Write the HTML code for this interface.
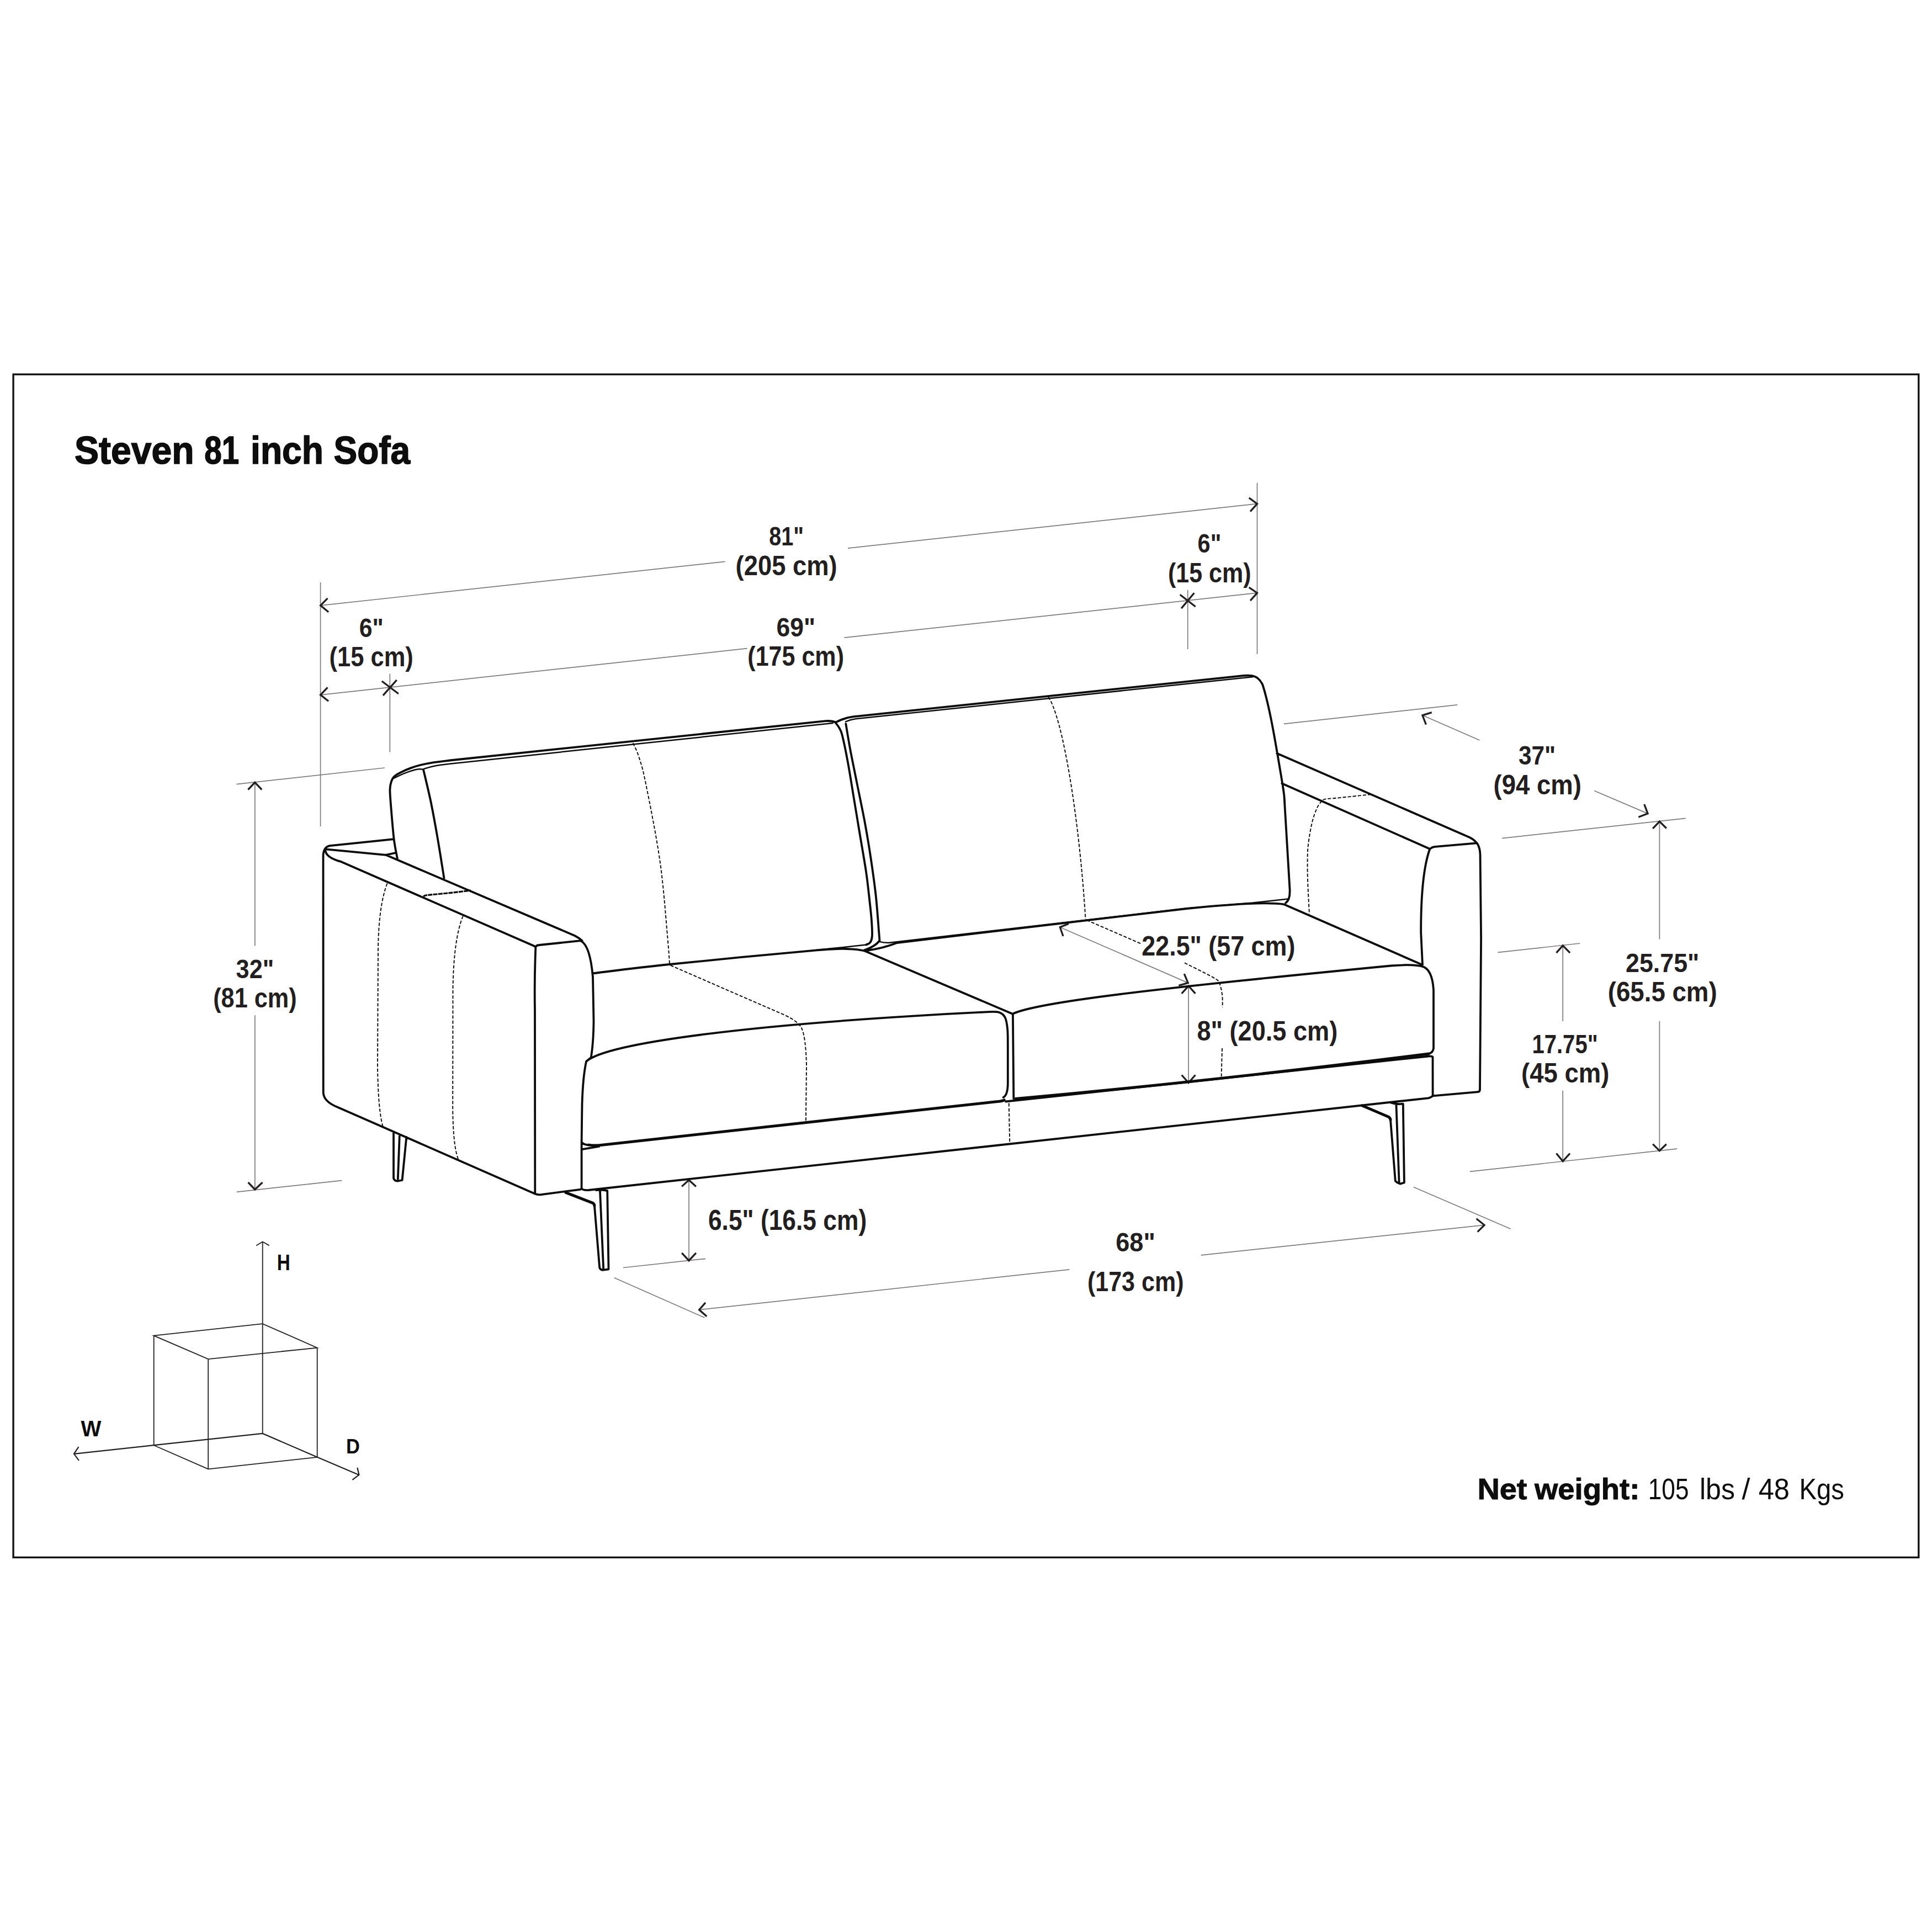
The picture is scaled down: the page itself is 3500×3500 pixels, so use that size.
<!DOCTYPE html>
<html><head><meta charset="utf-8"><title>Steven 81 inch Sofa</title>
<style>html,body{margin:0;padding:0;background:#fff;}svg{display:block;}text{font-family:"Liberation Sans",sans-serif;}</style>
</head><body>
<svg width="3500" height="3500" viewBox="0 0 3500 3500">
<rect width="3500" height="3500" fill="#fff"/>
<rect x="24.1" y="678.2" width="3451.7" height="2143.2" fill="none" stroke="#141414" stroke-width="3.4"/>
<path d="M580.6,1055 L580.6,1497 M706.3,1220.5 L706.3,1362.4 M580.6,1096.9 L1313.7,1017.3 M1536,993.2 L2277.5,912.7 M2277.5,874.7 L2277.5,1185 M2151.7,1068.8 L2151.7,1175.9 M580.6,1258.8 L1353.6,1174.7 M1529.5,1155.2 L2277.5,1074.2 M428.4,1420.7 L697,1391 M461.8,1417.3 L461.8,1713.6 M461.8,1839.2 L461.8,2154.9 M428.9,2159.3 L619.2,2138.6 M2325.9,1311.3 L2640.3,1276.9 M2576.9,1295.8 L2680.4,1341 M2888.1,1432.5 L2985.1,1473.9 M2721.2,1518.6 L3053.7,1482.4 M3006.4,1488.1 L3006.4,1701.6 M3006.4,1850.1 L3006.4,2084.8 M2713.4,1725.4 L2862.2,1709 M2831.2,1712.9 L2831.2,1850.1 M2831.2,1975.6 L2831.2,2103.7 M2662.9,2122.4 L3038.2,2081.2 M1920.3,1679.7 L2152.2,1780.6 M2153.1,1786.2 L2153.1,1961.5 M1248,2137.8 L1248,2283.7 M1128.9,2296.5 L1278,2280.3 M1112.6,2314.8 L1276.4,2387 M1266.6,2372.8 L1937.4,2299.9 M2175.7,2273.9 L2689.1,2219.3 M2560.8,2150.5 L2736.7,2226.3" fill="none" stroke="#7c7c7c" stroke-width="1.7"/>
<path d="M593.5,1083.9 L580.6,1096.9 L595.1,1108.7 M2262.7,901.8 L2277.5,912.7 L2265,926.7 M593.5,1245.3 L580.6,1258.8 L595.1,1270.2 M2262.7,1064.1 L2277.5,1074.2 L2265,1088.2 M691.8,1234 L721.8,1256.8 M718.7,1231.9 L693.9,1259.8 M2137.7,1077.3 L2165.7,1099 M2163.4,1074.2 L2140.1,1102.1 M449.4,1430.5 L461.8,1417.3 L474.2,1430.5 M449.6,2142 L461.8,2154.9 L475.5,2142 M2593.7,1290.6 L2576.9,1295.8 L2583.4,1312.6 M2978.7,1457 L2985.1,1473.9 L2968.3,1480.3 M2994.2,1501 L3006.4,1488.1 L3018.8,1500.5 M2994.2,2072.7 L3006.4,2084.8 L3018.8,2072.7 M2819.5,1726.2 L2831.2,1712.9 L2844.1,1726.2 M2819.5,2089.5 L2831.2,2103.7 L2844.1,2089.5 M1935.9,1673.4 L1920.3,1679.7 L1926,1696 M2145.3,1764.2 L2152.2,1780.6 L2135.4,1785.3 M2140.7,1799.9 L2153.1,1786.2 L2165.5,1799.9 M2140.7,1947.5 L2153.1,1961.5 L2165.5,1947.5 M1235.2,2149.4 L1248,2137.8 L1260.9,2149.4 M1235.2,2269.8 L1248,2283.7 L1260.9,2269.8 M1278,2359.8 L1266.6,2372.8 L1280.3,2384.7 M2674.6,2207.7 L2689.1,2219.3 L2676.7,2231.7" fill="none" stroke="#231f20" stroke-width="3.3"/>
<path d="M713.6,1520.2 L597.6,1532.2 Q586,1534.5 585.5,1550 L585.7,1979.5 Q586.5,1996 612.1,2005.9 L969.3,2162.7 Q973.5,2164.6 978.6,2164.3 L1051.2,2154.8 Q1053.6,2154 1053.6,2151.7 M589.3,1538.4 L699,1548.8 L716.7,1545 M699,1548.8 L1041.5,1695.2 Q1049,1699 1054.5,1704.2 M589.3,1538.4 Q588.5,1553 618.3,1561.2 L966.5,1713.3 Q968.5,1714.3 970.3,1715.9 M970.3,1715.9 Q968,1780 969,1830 L969.3,2162.7 M970.3,1715 Q972.5,1712.3 976.8,1712 L1051.9,1704.2 C1064,1710 1071,1735 1074,1770 L1075.5,1850 Q1075,1890 1070.7,1915.7 M719.8,1555.0 C718.8,1549.1 715.7,1537.3 713.6,1519.8 C711.5,1502.3 708.6,1465.1 707.4,1450.0 C706.2,1434.9 706.3,1434.6 706.5,1429.0 C706.7,1423.4 707.5,1420.2 708.7,1416.6 C709.9,1413.0 710.7,1410.2 713.6,1407.3 C716.5,1404.4 720.9,1401.9 726.1,1399.2 C731.3,1396.5 738.5,1393.4 744.7,1391.1 C750.9,1388.8 757.1,1387.0 763.3,1385.5 C769.5,1384.0 773.4,1383.1 782.0,1381.8 C790.6,1380.5 809.5,1378.2 815.0,1377.5 L1495.8,1306.1 Q1508,1305.5 1513.9,1308.7 M767.0,1394.2 C769.3,1404.3 776.7,1434.0 781.0,1455.0 C785.3,1476.0 789.1,1497.3 793.0,1520.0 C796.9,1542.7 802.6,1579.2 804.5,1591.0 M1513.4,1308.9 C1515.2,1312.1 1520.8,1316.1 1524.5,1327.8 C1528.2,1339.5 1531.9,1359.3 1535.6,1379.0 C1539.3,1398.7 1543.1,1423.5 1546.8,1445.8 C1550.5,1468.1 1554.2,1490.3 1557.9,1512.6 C1561.6,1534.8 1566.0,1558.9 1569.0,1579.3 C1572.0,1599.7 1574.0,1620.2 1575.7,1635.0 C1577.4,1649.8 1578.3,1658.2 1579.0,1668.4 C1579.7,1678.6 1580.4,1689.5 1579.9,1696.0 C1579.5,1702.5 1578.1,1704.9 1576.3,1707.5 C1574.5,1710.1 1570.2,1710.8 1569.0,1711.5 M1532.3,1311.1 C1533.6,1318.7 1536.6,1338.1 1540.1,1356.8 C1543.6,1375.5 1549.0,1401.2 1553.4,1423.5 C1557.9,1445.8 1562.7,1468.0 1566.8,1490.3 C1570.9,1512.6 1574.6,1534.8 1577.9,1557.1 C1581.2,1579.3 1584.4,1601.5 1586.8,1623.8 C1589.2,1646.0 1591.3,1677.2 1592.4,1690.6 C1593.5,1704.0 1593.3,1701.8 1593.5,1704.0 Q1585,1715 1565.9,1721.4 M1513.9,1308.7 Q1530,1300 1545,1298.3 L2253.7,1223.8 Q2270,1222.5 2277,1227.6 Q2284,1233 2287.4,1240.6 C2300,1280 2310,1340 2323.6,1421.7 Q2327,1440 2327.5,1460 L2336.5,1610.7 Q2337.5,1630 2329.3,1635.6 M1073.5,1763.4 C1096.8,1760.7 1145.2,1754.0 1213.0,1747.0 C1280.8,1740.0 1425.2,1726.0 1480.0,1721.4 C1534.8,1716.8 1527.7,1719.2 1542.0,1719.4 C1556.3,1719.6 1561.9,1722.0 1565.9,1722.5 M1570,1722 Q1600,1718 1625,1708 L2150,1646 Q2290,1632 2326.5,1638.4 L2577,1748 M2313.3,1364.8 L2662.3,1517 Q2670,1520.5 2676.6,1528.7 Q2681,1536 2681.5,1548 L2683.1,1700 L2681,1974.3 Q2680.5,1978 2677.2,1978.2 L2597.7,1985.2 M2322.3,1419.2 L2589.9,1537.7 M2589.9,1538.5 Q2594,1534.5 2600.2,1533.9 L2675.3,1527.4 M2589.9,1539 C2579,1570 2574,1620 2574.2,1690 L2577,1748 M1565.9,1722.5 L1834.9,1837 M1825.8,1895 L1825.8,1963 Q1825.5,1984 1817.6,1988 M1062.1,1922.7 C1100,1890 1350,1855 1785,1833.4 C1789.0,1833.5 1802.9,1832.0 1808.9,1833.7 C1814.9,1835.4 1818.2,1838.2 1820.9,1843.5 C1823.6,1848.8 1824.4,1856.6 1825.2,1865.2 C1826.0,1873.8 1825.7,1890.0 1825.8,1895.0 M1070.7,1915.7 L1062.1,1922.7 Q1056,1950 1054.5,2000 L1053.6,2069.4 Q1058,2074 1066.8,2074.5 M1053.6,2069.4 L1053.6,2151.7 M1055.9,2081.9 L1085,2077 M1834.9,1837.7 L1836.3,1990 M1834.9,1836.5 C1880,1815 2100,1790 2520,1749.5 Q2565,1746 2580,1752 Q2595,1760 2597,1793.6 L2597,1899 Q2596,1907 2588.4,1908.9 M1822,1995.5 L2588,1913.5 Q2594,1913 2595.5,1915 L2595.6,1984.7 M1053.6,2153 Q1056,2156.5 1066,2156 L2587.3,1989.3 Q2594,1987.5 2595.6,1984.7 M713,2050 L713,2134.8 Q715,2140 721,2139.5 L728.6,2137.9 L736.3,2060 M723.9,2055 L720.8,2136 M1076.9,2184.3 L1086.2,2296.9 Q1088,2300.5 1091.6,2300.8 L1102.5,2299.3 L1100.2,2157.2 M1087,2158 L1093.2,2299.3 M1080,2156 Q1090,2155 1100.2,2157.2 M2519,2028.7 L2527.8,2139.4 Q2531,2143 2536.6,2144.6 L2543.9,2142.5 L2541.8,1999.7 M2529.4,2000.7 L2534.6,2141.5 M2520,1997.6 Q2530,2001 2541.8,1999.7 M2597.7,1985.2 Q2596,1985 2595.6,1984.7" fill="none" stroke="#0b0b0b" stroke-width="3.8" stroke-linecap="round" stroke-linejoin="round"/>
<path d="M1066.8,2074.1 Q1075,2075.5 1083.9,2074.9 L1805,1995.7 Q1815,1995 1819.2,1992.9 M1840,1990.5 Q2200,1958 2588.4,1909 M1024.8,2160.3 L1074.5,2179.7 Q1077,2182 1076.9,2184.3 M2467.3,2002.8 L2515.9,2023.5 Q2519,2026 2519,2028.7" fill="none" stroke="#0b0b0b" stroke-width="5" stroke-linecap="round" stroke-linejoin="round"/>
<path d="M713.6,1409.8 C716.7,1408.3 726.1,1403.6 732.3,1401.1 C738.5,1398.6 746.2,1396.1 750.9,1394.8 C755.5,1393.5 757.6,1393.4 760.2,1393.3 C762.8,1393.2 765.4,1393.8 766.4,1393.9 M766.4,1393.9 C766.9,1393.7 765.9,1393.5 769.5,1392.4 C773.1,1391.3 780.6,1388.9 788.2,1387.4 C795.8,1386.0 810.5,1384.3 815.0,1383.7 L1508.7,1310 M1532,1307.4 Q1540,1303.5 1550,1302.2 L2269.2,1226.3 M1470,1722 Q1490,1720 1511,1717.8 L1569,1711.5 M1592.8,1705.9 Q1600,1708 1609.4,1708 L2150,1645.5 L2269.6,1635.6 L2333.6,1628.5" fill="none" stroke="#0b0b0b" stroke-width="2.5" stroke-linecap="round" stroke-linejoin="round"/>
<path d="M701.5,1600.5 Q686,1640 685,1720 L684,1930 Q685,2015 694.4,2043.2 M838.8,1659.5 Q822,1700 820.5,1790 L820.2,2010 Q821,2080 831.1,2102.2 M2483.9,1439.1 C2477.8,1439.8 2458.0,1441.9 2447.0,1443.1 C2436.0,1444.2 2425.8,1445.2 2418.0,1446.0 C2410.2,1446.8 2403.9,1446.8 2399.9,1447.8 C2395.9,1448.8 2396.4,1448.9 2394.0,1451.8 C2391.6,1454.7 2388.2,1458.5 2385.4,1464.9 C2382.6,1471.3 2379.6,1479.2 2377.0,1490.0 C2374.4,1500.8 2371.4,1518.0 2370.0,1530.0 C2368.6,1542.0 2368.7,1550.6 2368.6,1562.3 C2368.5,1574.0 2368.6,1584.4 2369.2,1600.0 C2369.8,1615.6 2371.5,1646.7 2372.0,1656.0 M1146.7,1346.2 C1148.4,1350.2 1153.1,1357.7 1157.0,1370.0 C1160.9,1382.3 1163.5,1388.0 1170.0,1420.0 C1176.5,1452.0 1189.3,1515.6 1195.9,1562.3 C1202.5,1609.0 1206.7,1669.3 1209.5,1700.0 C1212.3,1730.7 1212.4,1738.6 1213.0,1746.3 M1214.6,1748.8 L1422.7,1839.4 Q1445,1850 1452,1862 Q1460,1880 1461,1930 L1459.9,2033.5 M1899.2,1262.6 C1925,1300 1955,1480 1966.5,1665 M1968.7,1666.9 L2066.9,1709.6 M2146.0,1744.3 C2155.4,1749.2 2191.7,1766.6 2202.5,1773.5 C2213.3,1780.4 2208.6,1780.7 2210.6,1785.9 C2212.6,1791.1 2213.6,1798.0 2214.3,1804.5 C2215.0,1811.0 2214.6,1821.6 2214.6,1825.0 M2214,1899 L2212.6,1950.2 M1827.7,1998.6 L1829.2,2069.7" fill="none" stroke="#0b0b0b" stroke-width="1.9" stroke-dasharray="6 3.1"/>
<path d="M767.4,1624.8 C768.4,1624.3 765.3,1622.9 773.6,1621.7 C781.9,1620.5 804.7,1618.8 817.1,1617.4 C829.5,1616.1 842.2,1614.3 848.2,1613.6 C854.2,1612.9 852.2,1613.1 853.0,1613.0" fill="none" stroke="#0b0b0b" stroke-width="3.2" stroke-dasharray="8 1.3"/>
<path d="M278.7,2419.7 L475.7,2398.1 L574.7,2441.6 L377.2,2462.1 Z M278.7,2419.7 L278.7,2618.2 M377.2,2462.1 L377.2,2661.4 M574.7,2441.6 L574.7,2639.8 M377.2,2661.4 L574.7,2639.8 M278.7,2618.2 L377.2,2661.4 M475.7,2249.5 L475.7,2596.9 M464.2,2256.4 L475.7,2249.5 L487.7,2256.4" fill="none" stroke="#231f20" stroke-width="1.8"/>
<path d="M134,2633.8 L278.7,2618.2 L475.7,2596.9 L574.7,2639.8 L650.4,2671.9 M142.4,2621.2 L134,2633.8 L143,2645.8 M647.4,2658.7 L650.4,2671.9 L638.4,2680.9" fill="none" stroke="#231f20" stroke-width="2.2"/>
<text x="3155.5" y="2715.7" font-size="53.8" fill="#0d0d0d">/</text>
<text x="135.0" y="840.0" font-size="69.8" font-weight="bold" fill="#0d0d0d" stroke="#0d0d0d" stroke-width="1.60" stroke-linejoin="round" textLength="216.7" lengthAdjust="spacingAndGlyphs">Steven</text>
<text x="370.3" y="840.0" font-size="69.8" font-weight="bold" fill="#0d0d0d" stroke="#0d0d0d" stroke-width="1.60" stroke-linejoin="round" textLength="62.9" lengthAdjust="spacingAndGlyphs">81</text>
<text x="454.1" y="840.0" font-size="69.8" font-weight="bold" fill="#0d0d0d" stroke="#0d0d0d" stroke-width="1.60" stroke-linejoin="round" textLength="131.9" lengthAdjust="spacingAndGlyphs">inch</text>
<text x="604.6" y="840.0" font-size="69.8" font-weight="bold" fill="#0d0d0d" stroke="#0d0d0d" stroke-width="1.60" stroke-linejoin="round" textLength="138.4" lengthAdjust="spacingAndGlyphs">Sofa</text>
<text x="1393.2" y="988.2" font-size="48.7" font-weight="bold" fill="#231f20" textLength="62.9" lengthAdjust="spacingAndGlyphs">81&quot;</text>
<text x="1332.6" y="1041.8" font-size="49.4" font-weight="bold" fill="#231f20" textLength="184.0" lengthAdjust="spacingAndGlyphs">(205 cm)</text>
<text x="2169.6" y="1001.2" font-size="48.7" font-weight="bold" fill="#231f20" textLength="42.7" lengthAdjust="spacingAndGlyphs">6&quot;</text>
<text x="2116.0" y="1054.8" font-size="49.4" font-weight="bold" fill="#231f20" textLength="150.6" lengthAdjust="spacingAndGlyphs">(15 cm)</text>
<text x="650.8" y="1154.2" font-size="48.7" font-weight="bold" fill="#231f20" textLength="44.1" lengthAdjust="spacingAndGlyphs">6&quot;</text>
<text x="596.6" y="1207.0" font-size="49.4" font-weight="bold" fill="#231f20" textLength="152.2" lengthAdjust="spacingAndGlyphs">(15 cm)</text>
<text x="1406.4" y="1152.8" font-size="48.7" font-weight="bold" fill="#231f20" textLength="70.6" lengthAdjust="spacingAndGlyphs">69&quot;</text>
<text x="1354.3" y="1206.4" font-size="49.4" font-weight="bold" fill="#231f20" textLength="174.7" lengthAdjust="spacingAndGlyphs">(175 cm)</text>
<text x="2750.9" y="1385.1" font-size="48.7" font-weight="bold" fill="#231f20" textLength="67.3" lengthAdjust="spacingAndGlyphs">37&quot;</text>
<text x="2705.6" y="1439.0" font-size="49.4" font-weight="bold" fill="#231f20" textLength="159.2" lengthAdjust="spacingAndGlyphs">(94 cm)</text>
<text x="427.6" y="1771.9" font-size="48.7" font-weight="bold" fill="#231f20" textLength="68.6" lengthAdjust="spacingAndGlyphs">32&quot;</text>
<text x="386.2" y="1824.9" font-size="49.4" font-weight="bold" fill="#231f20" textLength="151.4" lengthAdjust="spacingAndGlyphs">(81 cm)</text>
<text x="2068.3" y="1731.0" font-size="49.4" font-weight="bold" fill="#231f20" textLength="278.1" lengthAdjust="spacingAndGlyphs">22.5&quot; (57 cm)</text>
<text x="2945.0" y="1760.8" font-size="48.7" font-weight="bold" fill="#231f20" textLength="133.3" lengthAdjust="spacingAndGlyphs">25.75&quot;</text>
<text x="2912.7" y="1813.9" font-size="49.4" font-weight="bold" fill="#231f20" textLength="198.0" lengthAdjust="spacingAndGlyphs">(65.5 cm)</text>
<text x="2168.5" y="1884.7" font-size="49.4" font-weight="bold" fill="#231f20" textLength="254.8" lengthAdjust="spacingAndGlyphs">8&quot; (20.5 cm)</text>
<text x="2775.5" y="1908.3" font-size="48.7" font-weight="bold" fill="#231f20" textLength="119.1" lengthAdjust="spacingAndGlyphs">17.75&quot;</text>
<text x="2756.1" y="1961.4" font-size="49.4" font-weight="bold" fill="#231f20" textLength="159.2" lengthAdjust="spacingAndGlyphs">(45 cm)</text>
<text x="1282.9" y="2227.6" font-size="50.9" font-weight="bold" fill="#231f20" textLength="287.3" lengthAdjust="spacingAndGlyphs">6.5&quot; (16.5 cm)</text>
<text x="2021.2" y="2266.5" font-size="48.7" font-weight="bold" fill="#231f20" textLength="71.7" lengthAdjust="spacingAndGlyphs">68&quot;</text>
<text x="1969.9" y="2338.9" font-size="49.4" font-weight="bold" fill="#231f20" textLength="174.7" lengthAdjust="spacingAndGlyphs">(173 cm)</text>
<text x="2676.4" y="2715.7" font-size="53.8" font-weight="bold" fill="#0d0d0d" stroke="#0d0d0d" stroke-width="1.00" stroke-linejoin="round" textLength="90.1" lengthAdjust="spacingAndGlyphs">Net</text>
<text x="2780.0" y="2715.7" font-size="53.8" font-weight="bold" fill="#0d0d0d" stroke="#0d0d0d" stroke-width="1.00" stroke-linejoin="round" textLength="190.3" lengthAdjust="spacingAndGlyphs">weight:</text>
<text x="2985.8" y="2715.7" font-size="53.8" font-weight="normal" fill="#0d0d0d" textLength="73.7" lengthAdjust="spacingAndGlyphs">105</text>
<text x="3079.0" y="2715.7" font-size="53.8" font-weight="normal" fill="#0d0d0d" textLength="64.0" lengthAdjust="spacingAndGlyphs">lbs</text>
<text x="3185.7" y="2715.7" font-size="53.8" font-weight="normal" fill="#0d0d0d" textLength="56.3" lengthAdjust="spacingAndGlyphs">48</text>
<text x="3259.5" y="2715.7" font-size="53.8" font-weight="normal" fill="#0d0d0d" textLength="81.5" lengthAdjust="spacingAndGlyphs">Kgs</text>
<text x="501.8" y="2300.5" font-size="41.4" font-weight="bold" fill="#0d0d0d" textLength="24.0" lengthAdjust="spacingAndGlyphs">H</text>
<text x="146.6" y="2601.7" font-size="40.7" font-weight="bold" fill="#0d0d0d" textLength="36.9" lengthAdjust="spacingAndGlyphs">W</text>
<text x="627.0" y="2633.2" font-size="36.3" font-weight="bold" fill="#0d0d0d" textLength="24.9" lengthAdjust="spacingAndGlyphs">D</text>
</svg>
</body></html>
